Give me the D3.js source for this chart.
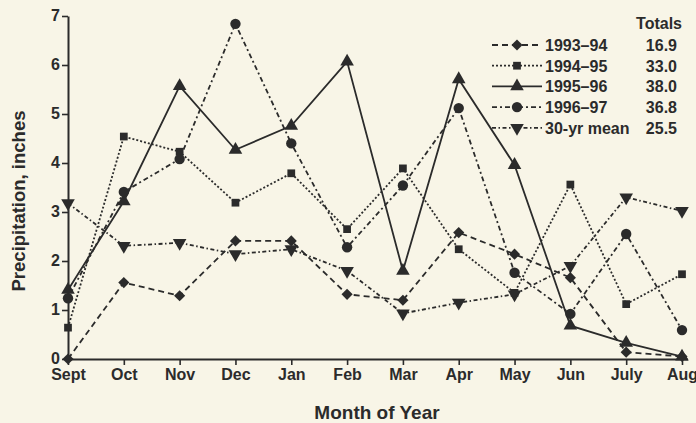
<!DOCTYPE html>
<html>
<head>
<meta charset="utf-8">
<script src="https://cdn.jsdelivr.net/npm/d3@7"></script>
<style>
  html, body { margin: 0; padding: 0; background: #f8f5e7; }
  svg { display: block; }
  text { font-family: "Liberation Sans", Arial, Helvetica, sans-serif; font-weight: bold; fill: #2b2b2b; }
</style>
</head>
<body>
<svg id="chart" width="696" height="423"></svg>
<script>
const months = ["Sept","Oct","Nov","Dec","Jan","Feb","Mar","Apr","May","Jun","July","Aug"];
const yTicks = [0,1,2,3,4,5,6,7];

const s1993 = [0.00,1.56,1.29,2.41,2.41,1.32,1.20,2.58,2.14,1.66,0.14,0.05];
const s1994 = [0.64,4.54,4.23,3.19,3.79,2.65,3.89,2.24,1.35,3.56,1.12,1.73];
const s1995 = [1.41,3.22,5.57,4.27,4.76,6.07,1.80,5.71,3.96,0.68,0.33,0.05];
const s1996 = [1.24,3.41,4.08,6.84,4.40,2.28,3.54,5.12,1.76,0.92,2.55,0.59];
const sMean = [3.18,2.31,2.37,2.14,2.24,1.80,0.93,1.15,1.32,1.90,3.30,3.02];

const seriesNames = ["1993\u201394","1994\u201395","1995\u201396","1996\u201397","30-yr mean"];
const seriesTotals = ["16.9","33.0","38.0","36.8","25.5"];
const seriesValues = [s1993, s1994, s1995, s1996, sMean];

const styles = [
  {dash:"6,4", symbol:d3.symbolSquare, size:62, rot:45},
  {dash:"2,2", symbol:d3.symbolSquare, size:60, rot:0},
  {dash:null, symbol:d3.symbolTriangle, size:80, rot:0},
  {dash:"5,3,2,3", symbol:d3.symbolCircle, size:85, rot:0},
  {dash:"4,2.5,1.5,2.5", symbol:d3.symbolTriangle, size:80, rot:180}
];

const ink = "#2b2b2b";
const svg = d3.select("#chart");
const mLeft = 68, mRight = 682, mTop = 16, mBottom = 359;

const x = d3.scalePoint().domain(months).range([mLeft, mRight]);
const y = d3.scaleLinear().domain([0, 7]).range([mBottom, mTop]);

// axes
const yAxis = svg.append("g").attr("transform", `translate(${mLeft},0)`)
  .call(d3.axisLeft(y).tickValues(yTicks).tickSize(6).tickSizeOuter(0).tickPadding(2).tickFormat(d3.format("d")));
const xAxis = svg.append("g").attr("transform", `translate(0,${mBottom})`)
  .call(d3.axisBottom(x).tickSize(6).tickSizeOuter(0).tickPadding(4));
xAxis.select(".domain").attr("d", `M${mLeft},0.5H${mRight + 6}`);
[yAxis, xAxis].forEach(g => {
  g.select(".domain").attr("stroke", ink).attr("stroke-width", 2);
  g.selectAll(".tick line").attr("stroke", ink).attr("stroke-width", 1.6);
  g.selectAll("text").attr("font-size", 16).attr("font-family", null).attr("fill", ink);
});
yAxis.selectAll("text").attr("dy", "0.3em");
xAxis.selectAll("text").attr("dy", "0.68em");

// axis titles
svg.append("text").attr("transform", `translate(25,201) rotate(-90)`)
  .attr("text-anchor", "middle").attr("font-size", 18.5).text("Precipitation, inches");
svg.append("text").attr("x", 377).attr("y", 419).attr("text-anchor", "middle")
  .attr("font-size", 19).text("Month of Year");

// lines
const line = d3.line().x((d, i) => x(months[i])).y(d => y(d));
seriesValues.forEach((vals, k) => {
  svg.append("path").datum(vals).attr("d", line)
    .attr("fill", "none").attr("stroke", ink).attr("stroke-width", 1.8)
    .attr("stroke-dasharray", styles[k].dash);
});
// markers
seriesValues.forEach((vals, k) => {
  const st = styles[k];
  svg.append("g").selectAll("path").data(vals).join("path")
    .attr("d", d3.symbol().type(st.symbol).size(st.size))
    .attr("transform", (d, i) => `translate(${x(months[i])},${y(d)}) rotate(${st.rot})`)
    .attr("fill", ink);
});

// legend
const lg = svg.append("g");
lg.append("text").attr("x", 682).attr("y", 29).attr("text-anchor", "end").attr("font-size", 16).text("Totals");
seriesNames.forEach((name, k) => {
  const cy = 45 + k * 20.7;
  const st = styles[k];
  lg.append("line").attr("x1", 492).attr("x2", 542).attr("y1", cy).attr("y2", cy)
    .attr("stroke", ink).attr("stroke-width", 1.8).attr("stroke-dasharray", st.dash);
  lg.append("path").attr("d", d3.symbol().type(st.symbol).size(st.size)())
    .attr("transform", `translate(517,${cy}) rotate(${st.rot})`).attr("fill", ink);
  lg.append("text").attr("x", 545).attr("y", cy + 6).attr("font-size", 16).text(name);
  lg.append("text").attr("x", 677).attr("y", cy + 6).attr("text-anchor", "end").attr("font-size", 16).text(seriesTotals[k]);
});
</script>
</body>
</html>
